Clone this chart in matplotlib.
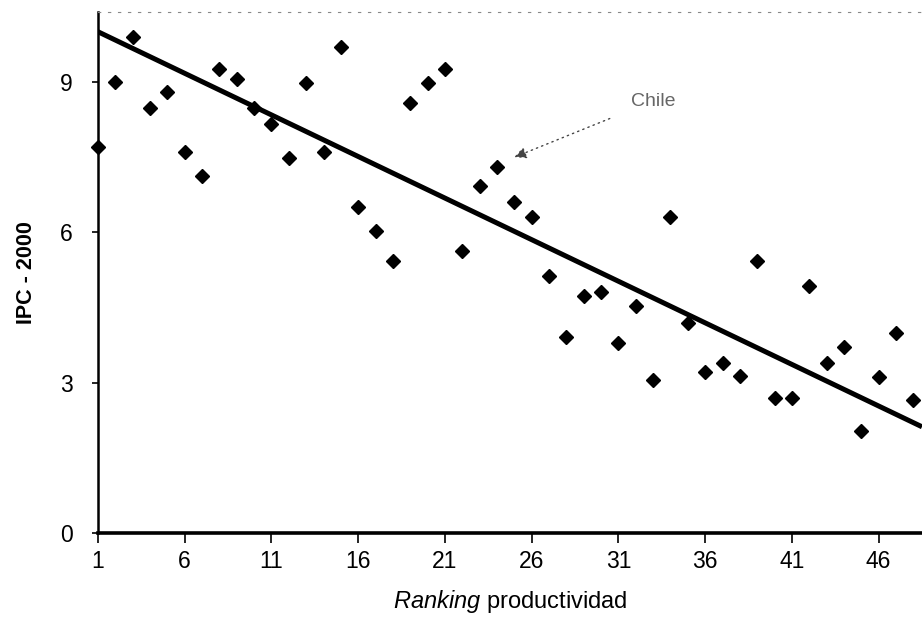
import numpy as np
import matplotlib
matplotlib.use("Agg")
import matplotlib.pyplot as plt

plt.rcParams['font.family'] = ['Liberation Sans', 'DejaVu Sans']
plt.rcParams['mathtext.fontset'] = 'custom'
plt.rcParams['mathtext.it'] = 'Liberation Sans:italic'
plt.rcParams['mathtext.rm'] = 'Liberation Sans'

# ranking de productividad y IPC 2000
ranking = list(range(1, 49))
ipc = [7.7, 9.0, 9.9, 8.48, 8.8, 7.6, 7.12, 9.26, 9.06, 8.48,
       8.16, 7.48, 8.98, 7.6, 9.7, 6.5, 6.02, 5.42, 8.58, 8.98,
       9.26, 5.62, 6.92, 7.3, 6.6, 6.3, 5.12, 3.92, 4.72, 4.8,
       3.8, 4.52, 3.06, 6.3, 4.2, 3.22, 3.4, 3.14, 5.42, 2.7,
       2.7, 4.92, 3.4, 3.72, 2.04, 3.12, 4.0, 2.66]
xticks = [1, 6, 11, 16, 21, 26, 31, 36, 41, 46]
yticks = [0, 3, 6, 9]
# recta de tendencia tal como aparece en la figura
trend_intercept = 10.17
trend_slope = -0.166
chile_x, chile_y = 25, 7.5

fig = plt.figure(figsize=(9.22, 6.27), dpi=100)
ax = fig.add_axes([0.1063, 0.15, 0.8937, 0.831])

ax.plot(ranking, ipc, 'D', color='black', ms=7.5, clip_on=False, zorder=3)

xl = np.array([1, 48.5])
ax.plot(xl, trend_intercept + trend_slope * xl, color='black', lw=3.6,
        solid_capstyle='butt')

ax.annotate('Chile', xy=(chile_x, chile_y), xytext=(31.7, 8.62),
            fontsize=14, color='#666666', va='center', ha='left',
            arrowprops=dict(arrowstyle='-|>,head_length=0.5,head_width=0.25',
                            linestyle=(0, (1, 3)), color='#444444', lw=1,
                            shrinkA=14, shrinkB=0))

ax.set_xlim(1, 48.5)
ax.set_ylim(0, 10.4)
ax.set_xticks(xticks)
ax.set_yticks(yticks)
ax.tick_params(labelsize=16.5, length=7, width=1.2, direction='out', pad=5)
ax.tick_params(axis='y', pad=14, length=4)

ax.spines['right'].set_visible(False)
ax.spines['left'].set_linewidth(1.8)
ax.spines['bottom'].set_linewidth(2.6)
ax.spines['top'].set_linestyle((0, (2, 7)))
ax.spines['top'].set_linewidth(0.8)
ax.spines['top'].set_color('#888888')

ax.set_ylabel('IPC - 2000', fontsize=15.5, fontweight='bold', labelpad=17)
ax.set_xlabel(r'$\it{Ranking}$ productividad', fontsize=17, labelpad=11)

fig.savefig('out.png', dpi=100)
